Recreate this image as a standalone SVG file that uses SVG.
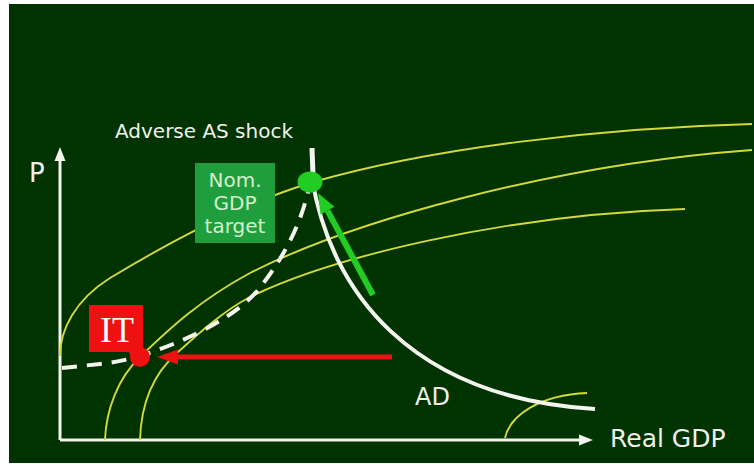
<svg xmlns="http://www.w3.org/2000/svg" width="754" height="464" viewBox="0 0 754 464">
<style>
.bg{fill:#013301}
.axis{stroke:#f4f4ee;stroke-width:3;fill:none}
.yc{stroke:#d2da3a;stroke-width:1.9;fill:none}
.lbl{font-family:"DejaVu Sans",Verdana,sans-serif;fill:#f0f0ea}
.box{fill:#1f9e3e}
.boxt{font-family:"DejaVu Sans",Verdana,sans-serif;font-size:20px;fill:#d4f0cc;text-anchor:middle}
</style>
<rect x="0" y="0" width="754" height="464" fill="#ffffff"/>
<rect class="bg" x="9" y="4" width="745" height="459"/>
<g id="axes">
<path class="axis" d="M60,440 L60,158"/>
<polygon points="60,147 54.5,161 65.5,161" fill="#f4f4ee"/>
<path class="axis" d="M60,440 L582,440"/>
<polygon points="593,440 579,434.5 579,445.5" fill="#f4f4ee"/>
<text class="lbl" x="29" y="182" font-size="26">P</text>
<text class="lbl" x="610" y="447" font-size="25">Real GDP</text>
</g>
<g id="curves">
<path class="yc" d="M60,356 C60,330 75,300 110,278 C160,248 230,208 310,183 C430,148 600,128 752,124"/>
<path class="yc" d="M105,440 C106,410 118,378 140,357 C170,328 200,300 250,273 C350,222 550,165 752,150"/>
<path class="yc" d="M140,440 C141,405 152,375 177,353 C200,332 225,310 250,297 C330,258 500,215 685,209"/>
<path class="yc" d="M505,438 C510,415 540,395 587,393"/>
</g>
<g id="connectors">
<path d="M312,178 C330,290 410,398 595,409" stroke="#f4f4ee" stroke-width="4" fill="none"/>
<path d="M62,368 L100,364 Q120,362 140,356 C190,340 240,315 262,285 C285,255 300,225 308,192 L312,170" stroke="#f4f4ee" stroke-width="4" fill="none" stroke-dasharray="15,10"/>
<path d="M312,148 L313,175" stroke="#f4f4ee" stroke-width="5" fill="none"/>
<path d="M373,295 L327.5,210.6" stroke="#22cc22" stroke-width="6" fill="none"/>
<polygon points="318,193 334.5,206.8 320.5,214.4" fill="#22cc22"/>
<path d="M392,357 L175,357" stroke="#ee1111" stroke-width="5" fill="none"/>
<polygon points="157,357 178,349.5 178,364.5" fill="#ee1111"/>
</g>
<g id="shock-label">
<text class="lbl" x="115" y="138" font-size="19.5" textLength="178" lengthAdjust="spacingAndGlyphs">Adverse AS shock</text>
</g>
<g id="ngdp">
<rect class="box" x="195" y="163" width="80" height="80"/>
<text class="boxt" x="235" y="187">Nom.</text>
<text class="boxt" x="235" y="210">GDP</text>
<text class="boxt" x="235" y="233">target</text>
<ellipse cx="310" cy="182" rx="12.5" ry="10.5" fill="#22cc22"/>
</g>
<g id="it">
<rect x="89" y="305" width="54" height="47" fill="#ee1111"/>
<path d="M128,350 L143,350 L143,358 L132,360 Z" fill="#ee1111"/>
<circle cx="140" cy="357" r="10" fill="#ee1111"/>
<text x="100" y="342" font-family="'Liberation Serif','Times New Roman',serif" font-size="36" fill="#ffffff">IT</text>
</g>
<g id="ad-label">
<text class="lbl" x="415" y="405" font-size="24">AD</text>
</g>
</svg>
